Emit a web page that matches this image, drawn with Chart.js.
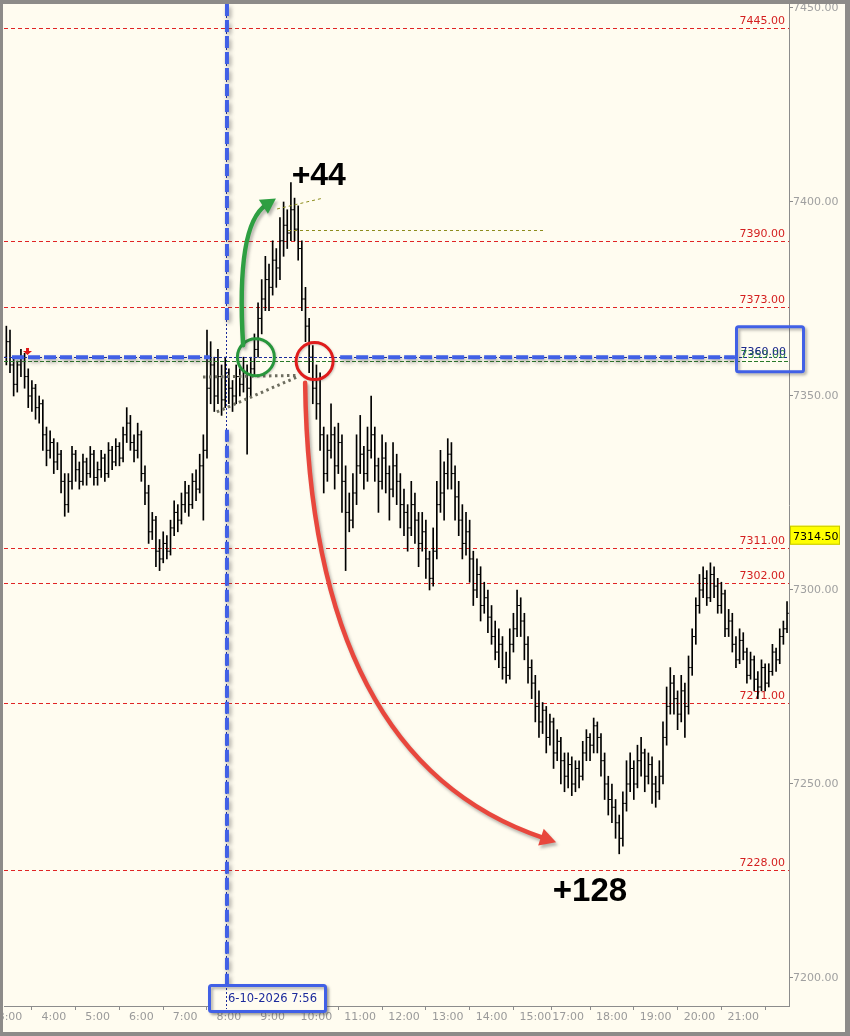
<!DOCTYPE html>
<html><head><meta charset="utf-8">
<script src="https://cdn.jsdelivr.net/npm/chart.js@4.4.1/dist/chart.umd.min.js"></script>
<style>
html,body{margin:0;padding:0;background:#8d8b89;width:850px;height:1036px;overflow:hidden;}
#wrap{position:absolute;left:3px;top:4px;width:842px;height:1028px;background:#fffcf0;}
canvas{display:block;}
</style></head><body>
<div id="wrap"><canvas id="c" width="842" height="1028"></canvas></div>
<script>
// ---- data ----
const sessions = [['2:55','15:10'],['15:30','15:55'],['17:00','22:00']];
const openP = [7360,
7364,7358,7353,7358,7360,7355,7350,7352,7347,7348,7340,7336,
7338,7333,7335,7328,7322,7328,7335,7331,7328,7333,7330,7335,
7329,7331,7334,7330,7336,7333,7337,7334,7340,7343,7338,7336,
7340,7330,7325,7315,7318,7310,7308,7312,7310,7316,7320,7318,
7322,7325,7322,7328,7326,7332,7336,7352,7358,7350,7355,7349,
7356,7352,7350,7355,7353,7356,7352,7357,7362,7370,7375,7380,
7378,7385,7383,7390,7394,7392,7398,7393,7388,7375,7368,7360,
7352,7348,7340,7330,7336,7340,7332,7338,7328,7320,7318,7325,
7332,7335,7330,7336,7340,7332,7328,7334,7330,7326,7332,7328,
7322,7320,7316,7322,7318,7312,7315,7308,7303,7310,7322,7325,
7330,7335,7330,7324,7318,7312,7315,7308,7300,7304,7296,7298,
7293,7288,7284,7286,7280,7278,7286,7290,7296,7292,7286,7280,
7276,7270,7266,7269,7262,7266,7258,7261,7256,
7252,7255,7250,7254,7252,7258,7262,7260,7265,7262,7256,7250,
7246,7244,7240,7236,7245,7250,7254,7250,7256,7258,7252,7255,
7250,7248,7252,7262,7270,7276,7272,7268,7274,7270,7280,7288,
7296,7300,7303,7298,7304,7301,7296,7299,7290,7292,7286,7282,
7287,7284,7278,7282,7277,7275,7280,7276,7279,7284,7282,7288,7290];
const highP = [7368,
7367,7360,7359,7362,7361,7357,7354,7353,7350,7349,7342,7341,
7339,7338,7336,7330,7330,7337,7336,7333,7335,7334,7337,7336,
7333,7336,7335,7338,7337,7339,7338,7342,7347,7345,7340,7343,
7341,7332,7327,7320,7319,7313,7315,7314,7318,7323,7322,7325,
7328,7327,7330,7331,7335,7340,7367,7364,7360,7362,7358,7360,
7357,7354,7358,7357,7360,7358,7360,7366,7374,7380,7386,7384,
7390,7388,7396,7400,7398,7405,7401,7399,7390,7378,7370,7363,
7358,7356,7342,7340,7348,7342,7343,7340,7332,7325,7330,7340,
7345,7337,7342,7350,7342,7334,7340,7338,7332,7338,7335,7330,
7326,7322,7328,7325,7320,7320,7318,7310,7316,7328,7336,7333,
7339,7338,7332,7328,7322,7320,7318,7310,7308,7306,7302,7300,
7296,7292,7290,7288,7284,7290,7294,7300,7298,7294,7288,7282,
7278,7274,7271,7270,7268,7267,7264,7262,7258,
7258,7257,7256,7256,7261,7264,7263,7267,7266,7263,7258,7252,
7250,7246,7242,7248,7256,7258,7256,7260,7262,7259,7258,7257,
7252,7256,7266,7275,7280,7278,7274,7278,7276,7283,7290,7298,
7304,7306,7305,7307,7306,7303,7302,7300,7295,7294,7288,7290,
7289,7285,7284,7283,7279,7282,7281,7281,7286,7285,7290,7292,7297];
const lowP = [7358,
7356,7350,7351,7355,7352,7347,7346,7344,7343,7336,7332,7334,
7330,7331,7325,7319,7320,7326,7328,7326,7327,7327,7329,7327,
7327,7329,7328,7329,7331,7332,7332,7333,7338,7336,7333,7334,
7328,7322,7312,7313,7306,7305,7307,7308,7309,7314,7315,7317,
7320,7319,7321,7323,7325,7318,7334,7348,7346,7348,7345,7347,
7348,7346,7348,7350,7351,7335,7350,7355,7360,7366,7372,7372,
7376,7378,7380,7386,7388,7390,7390,7385,7372,7364,7356,7348,
7344,7336,7325,7328,7334,7326,7330,7320,7305,7315,7316,7322,
7330,7326,7328,7334,7328,7320,7326,7325,7318,7324,7322,7316,
7314,7310,7314,7312,7306,7310,7303,7300,7301,7308,7320,7318,
7326,7326,7318,7314,7308,7309,7302,7296,7298,7292,7294,7289,
7286,7282,7280,7277,7276,7277,7284,7288,7288,7282,7276,7272,
7266,7262,7263,7258,7260,7254,7256,7250,7248,
7249,7247,7248,7249,7251,7256,7256,7258,7258,7252,7246,7242,
7240,7236,7232,7234,7243,7248,7246,7249,7252,7248,7250,7245,
7244,7246,7250,7260,7268,7268,7264,7266,7262,7268,7278,7286,
7294,7298,7296,7297,7298,7294,7294,7288,7288,7284,7280,7281,
7282,7276,7277,7274,7272,7274,7274,7275,7278,7279,7281,7286,7289];
const closeP = [7364,
7358,7353,7358,7360,7355,7350,7352,7347,7348,7340,7336,7338,
7333,7335,7328,7322,7328,7335,7331,7328,7333,7330,7335,7329,
7331,7334,7330,7336,7333,7337,7334,7340,7343,7338,7336,7340,
7330,7325,7315,7318,7310,7308,7312,7310,7316,7320,7318,7322,
7325,7322,7328,7326,7332,7336,7352,7358,7350,7355,7349,7356,
7352,7350,7355,7353,7356,7352,7357,7362,7370,7375,7380,7378,
7385,7383,7390,7394,7392,7398,7393,7388,7375,7368,7360,7352,
7348,7340,7330,7336,7340,7332,7338,7328,7320,7318,7325,7332,
7335,7330,7336,7340,7332,7328,7334,7330,7326,7332,7328,7322,
7320,7316,7322,7318,7312,7315,7308,7303,7310,7322,7325,7330,
7335,7330,7324,7318,7312,7315,7308,7300,7304,7296,7298,7293,
7288,7284,7286,7280,7278,7286,7290,7296,7292,7286,7280,7276,
7270,7266,7269,7262,7266,7258,7261,7256,7252,
7255,7250,7254,7252,7258,7262,7260,7265,7262,7256,7250,7246,
7244,7240,7236,7245,7250,7254,7250,7256,7258,7252,7255,7250,
7248,7252,7262,7270,7276,7272,7268,7274,7270,7280,7288,7296,
7300,7303,7298,7304,7301,7296,7299,7290,7292,7286,7282,7287,
7284,7278,7282,7277,7275,7280,7276,7279,7284,7282,7288,7290,7294];
const priceTicks = [7200,7250,7300,7350,7400,7450];
const levels = [7445,7390,7373,7311,7302,7271,7228];
const crossPrice = 7360, crossPrice2 = 7359, lastPrice = 7314.5;
const crossTimeIdx = 60.2, crossLabel = '6-10-2026 7:56';
const gainUp = '+44', gainDown = '+128';

// ---- categories ----
function buildTimes(){
  const out=[];
  sessions.forEach(([a,b])=>{
    const [h,m]=a.split(':').map(Number), [h2,m2]=b.split(':').map(Number);
    for(let t=h*60+m;t<=h2*60+m2;t+=5) out.push(Math.floor(t/60)+':'+String(t%60).padStart(2,'0'));
  });
  return out;
}
const times = buildTimes();
const hourIdx = times.map((t,k)=>t.endsWith(':00')?k:-1).filter(k=>k>=0 && k<times.length-1);

const rangeData = times.map((t,k)=>({x:k,y:[lowP[k],highP[k]]}));
const tickData = [];
times.forEach((t,k)=>{
  tickData.push({x:k-0.5,y:openP[k]},{x:k,y:openP[k]},{x:k,y:null},
                {x:k,y:closeP[k]},{x:k+0.5,y:closeP[k]},{x:k+0.5,y:null});
});

const FONT='"DejaVu Sans", Verdana, sans-serif';
const BLUE='#4160e6';

function arrow(ctx,p0,p1,p2,color,w,head){
  const ang=Math.atan2(p2.y-p1.y,p2.x-p1.x);
  const bx=p2.x-Math.cos(ang)*head*0.8, by=p2.y-Math.sin(ang)*head*0.8;
  ctx.strokeStyle=color; ctx.fillStyle=color; ctx.lineWidth=w; ctx.lineCap='round';
  ctx.beginPath(); ctx.moveTo(p0.x,p0.y); ctx.quadraticCurveTo(p1.x,p1.y,bx,by); ctx.stroke();
  ctx.beginPath();
  ctx.moveTo(p2.x,p2.y);
  ctx.lineTo(p2.x-Math.cos(ang)*head+Math.sin(ang)*head*0.55, p2.y-Math.sin(ang)*head-Math.cos(ang)*head*0.55);
  ctx.lineTo(p2.x-Math.cos(ang)*head-Math.sin(ang)*head*0.55, p2.y-Math.sin(ang)*head+Math.cos(ang)*head*0.55);
  ctx.closePath(); ctx.fill();
}

const annot = {
  id:'annot',
  beforeDatasetsDraw(chart){
    const ctx=chart.ctx, ca=chart.chartArea, Y=v=>chart.scales.y.getPixelForValue(v);
    ctx.save();
    ctx.strokeStyle='#e02424'; ctx.fillStyle='#d41f1f'; ctx.lineWidth=1; ctx.setLineDash([4,3]);
    ctx.font='11px '+FONT; ctx.textAlign='right'; ctx.textBaseline='alphabetic';
    levels.forEach(p=>{
      const y=Math.round(Y(p)+0.3)+0.5;
      ctx.beginPath(); ctx.moveTo(ca.left,y); ctx.lineTo(ca.right,y); ctx.stroke();
      ctx.fillText(p.toFixed(2), ca.right-4, y-5);
    });
    ctx.restore();
  },
  afterDatasetsDraw(chart){
    const ctx=chart.ctx, ca=chart.chartArea;
    const X=v=>chart.scales.x.getPixelForValue(v), Y=v=>chart.scales.y.getPixelForValue(v);
    const pt=(k,p)=>({x:X(k),y:Y(p)});
    ctx.save();
    // thin crosshair lines
    const yc=Math.round(Y(crossPrice))+0.5, yg=Math.round(Y(crossPrice2))+0.5, xc=Math.round(X(crossTimeIdx))+0.5;
    ctx.lineWidth=1;
    ctx.strokeStyle='#1a2a9a'; ctx.setLineDash([3,2]);
    ctx.beginPath(); ctx.moveTo(ca.left,yc); ctx.lineTo(ca.right,yc); ctx.stroke();
    ctx.setLineDash([2,2]);
    ctx.beginPath(); ctx.moveTo(xc,ca.top); ctx.lineTo(xc,ca.bottom); ctx.stroke();
    ctx.strokeStyle='#2a7a2a'; ctx.setLineDash([4,2]);
    ctx.beginPath(); ctx.moveTo(ca.left,yg); ctx.lineTo(ca.right,yg); ctx.stroke();
    // olive dashed
    ctx.strokeStyle='#8c8c1c'; ctx.setLineDash([3,3]);
    let a=pt(74.2,7398.2), b=pt(86.8,7401.0);
    ctx.beginPath(); ctx.moveTo(a.x,a.y); ctx.lineTo(b.x,b.y); ctx.stroke();
    const yo=Math.round(Y(7392.8))+0.5;
    ctx.beginPath(); ctx.moveTo(X(77.2),yo); ctx.lineTo(X(147.1),yo); ctx.stroke();
    // gray dotted
    ctx.strokeStyle='#6e6e60'; ctx.lineWidth=3; ctx.setLineDash([2.5,3.5]); ctx.lineCap='butt';
    a=pt(53.9,7354.9); b=pt(79.7,7355.3);
    ctx.beginPath(); ctx.moveTo(a.x,a.y); ctx.lineTo(b.x,b.y); ctx.stroke();
    a=pt(57.7,7345.9); b=pt(79.7,7354.9);
    ctx.beginPath(); ctx.moveTo(a.x,a.y); ctx.lineTo(b.x,b.y); ctx.stroke();
    // thick blue dashed with shadow
    ctx.shadowColor='rgba(60,60,60,0.45)'; ctx.shadowBlur=4; ctx.shadowOffsetX=2; ctx.shadowOffsetY=3;
    ctx.strokeStyle=BLUE; ctx.lineWidth=4; ctx.setLineDash([12,4]);
    const yb=Y(crossPrice);
    ctx.beginPath(); ctx.moveTo(X(1.55),yb); ctx.lineTo(X(55.8),yb); ctx.stroke();
    ctx.beginPath(); ctx.moveTo(X(91.5),yb); ctx.lineTo(X(199.7),yb); ctx.stroke();
    const xb=X(crossTimeIdx)+1;
    ctx.beginPath(); ctx.moveTo(xb,ca.top); ctx.lineTo(xb,Y(7369.1)); ctx.stroke();
    ctx.beginPath(); ctx.moveTo(xb,Y(7341.3)); ctx.lineTo(xb,Y(7198.2)); ctx.stroke();
    ctx.setLineDash([]);
    // circles
    ctx.shadowColor='rgba(60,60,60,0.25)'; ctx.shadowBlur=2; ctx.shadowOffsetX=1; ctx.shadowOffsetY=1;
    ctx.lineWidth=3;
    let c=pt(68.4,7360.0);
    ctx.strokeStyle='#27963b'; ctx.beginPath(); ctx.arc(c.x,c.y,18.5,0,Math.PI*2); ctx.stroke();
    c=pt(84.5,7359.0);
    ctx.strokeStyle='#e01c1c'; ctx.beginPath(); ctx.arc(c.x,c.y,18.5,0,Math.PI*2); ctx.stroke();
    // arrows
    ctx.shadowColor='rgba(60,60,60,0.35)'; ctx.shadowBlur=3; ctx.shadowOffsetX=2; ctx.shadowOffsetY=3;
    arrow(ctx, pt(64.9,7363.1), pt(62.9,7394.1), pt(73.9,7400.9), '#2e9f42', 4.5, 15);
    arrow(ctx, pt(81.9,7353.4), pt(83.2,7256.2), pt(150.7,7235.0), '#e8473d', 4.5, 16);
    ctx.shadowColor='transparent';
    // texts
    ctx.fillStyle='#000'; ctx.textAlign='left'; ctx.textBaseline='alphabetic';
    ctx.font='bold 32px "Liberation Sans", Arial, sans-serif';
    c=pt(78.2,7404.4); ctx.fillText(gainUp,c.x,c.y);
    ctx.font='bold 33px "Liberation Sans", Arial, sans-serif';
    c=pt(149.8,7219.8); ctx.fillText(gainDown,c.x,c.y);
    // red marker
    c=pt(5.8,7361.6);
    ctx.fillStyle='#e01818';
    ctx.fillRect(c.x-1.5,c.y-3,3,3);
    ctx.beginPath(); ctx.moveTo(c.x-4.5,c.y); ctx.lineTo(c.x+4.5,c.y); ctx.lineTo(c.x,c.y+4); ctx.closePath(); ctx.fill();
    ctx.restore();
  },
  afterDraw(chart){
    const ctx=chart.ctx, ca=chart.chartArea;
    const X=v=>chart.scales.x.getPixelForValue(v), Y=v=>chart.scales.y.getPixelForValue(v);
    ctx.save();
    ctx.font='11px '+FONT; ctx.textBaseline='alphabetic';
    // blue box at right with crossing prices
    const yc=Y(crossPrice);
    ctx.textAlign='right';
    ctx.fillStyle='#2e8b3a'; ctx.fillText(crossPrice2.toFixed(2), ca.right-3, yc+0.5);
    ctx.fillStyle='#1c2a8c'; ctx.fillText(crossPrice.toFixed(2), ca.right-3, yc-2.5);
    ctx.shadowColor='rgba(60,60,60,0.4)'; ctx.shadowBlur=3; ctx.shadowOffsetX=2; ctx.shadowOffsetY=2;
    ctx.strokeStyle=BLUE; ctx.lineWidth=3;
    ctx.beginPath(); ctx.roundRect(ca.right-52.5, yc-30.5, 67, 45, 2); ctx.stroke();
    ctx.shadowColor='transparent';
    // yellow last price
    const yl=Y(lastPrice);
    ctx.fillStyle='#ffff00'; ctx.fillRect(ca.right+1, yl-8, 50, 19);
    ctx.strokeStyle='#c8c800'; ctx.lineWidth=1; ctx.strokeRect(ca.right+1.5, yl-7.5, 49, 18);
    ctx.fillStyle='#000'; ctx.textAlign='left'; ctx.fillText(lastPrice.toFixed(2), ca.right+4, yl+6);
    // date box
    const xc=X(crossTimeIdx);
    ctx.shadowColor='rgba(60,60,60,0.4)'; ctx.shadowBlur=3; ctx.shadowOffsetX=2; ctx.shadowOffsetY=2;
    ctx.fillStyle='#fffcf0'; ctx.strokeStyle=BLUE; ctx.lineWidth=3;
    ctx.beginPath(); ctx.roundRect(Math.round(xc)-16.5, ca.bottom-20.5, 116, 26, 2); ctx.fill(); ctx.stroke();
    ctx.shadowColor='transparent';
    ctx.strokeStyle='#1a2a9a'; ctx.lineWidth=1; ctx.setLineDash([2,2]);
    ctx.beginPath(); ctx.moveTo(Math.round(xc)+0.5, ca.bottom-18); ctx.lineTo(Math.round(xc)+0.5, ca.bottom+3); ctx.stroke();
    ctx.setLineDash([]);
    ctx.fillStyle='#1c2a9c'; ctx.font='11.5px '+FONT; ctx.textAlign='left';
    ctx.fillText(crossLabel, Math.round(xc)+2, ca.bottom-4);
    ctx.restore();
  }
};

new Chart(document.getElementById('c'), {
  type:'bar',
  data:{datasets:[
    {type:'bar', label:'range', data:rangeData, backgroundColor:'#000', barThickness:1, borderWidth:0, grouped:false, order:1},
    {type:'line', label:'open/close', data:tickData, borderColor:'#000', borderWidth:1, pointRadius:0, spanGaps:false, tension:0, order:0}
  ]},
  options:{
    responsive:false, animation:false, devicePixelRatio:1,
    layout:{padding:{left:1,top:0,right:0,bottom:0}},
    plugins:{legend:{display:false}, tooltip:{enabled:false}},
    scales:{
      x:{type:'linear', min:-0.645, max:214.54, offset:false,
        afterBuildTicks:s=>{ s.ticks = hourIdx.map(v=>({value:v})); },
        afterFit:s=>{ s.height=26; s.paddingLeft=0; s.paddingRight=0; },
        ticks:{autoSkip:false, maxRotation:0, color:'#9a9a9a', padding:1, font:{family:FONT,size:11}, callback:v=>times[v]},
        grid:{drawOnChartArea:false, drawTicks:true, tickLength:4, color:'#8c8c8c'},
        border:{color:'#8c8c8c', width:1}},
      y:{type:'linear', position:'right', min:7192.78, max:7451.03,
        afterBuildTicks:s=>{ s.ticks = priceTicks.map(v=>({value:v})); },
        afterFit:s=>{ s.width=56; s.paddingTop=0; s.paddingBottom=0; },
        ticks:{color:'#a0a0a0', padding:0, font:{family:FONT,size:11}, callback:v=>Number(v).toFixed(2)},
        grid:{drawOnChartArea:false, drawTicks:true, tickLength:4, color:'#8c8c8c'},
        border:{color:'#8c8c8c', width:1}}
    }
  },
  plugins:[annot]
});
</script>
</body></html>
